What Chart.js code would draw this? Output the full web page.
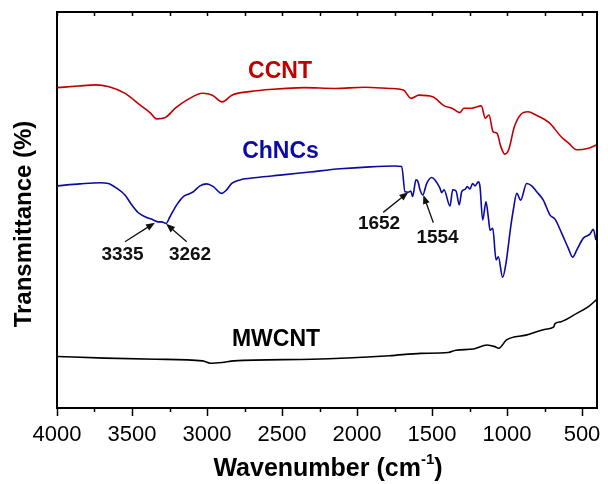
<!DOCTYPE html>
<html>
<head>
<meta charset="utf-8">
<script src="https://cdn.jsdelivr.net/npm/chart.js@4"></script>
<style>
  body { margin: 0; background: #fff; }
  #ftir-chart { display: block; }
</style>
</head>
<body>
<canvas id="ftir-chart" width="608" height="484"></canvas>
<script>
/***************************  Data  ******************************/
// wavenumbers (cm-1) and transmittance (arbitrary, offset per sample)
var ccntWn = [3998, 3860, 3743, 3653, 3549, 3445, 3380, 3335, 3276, 3211, 3133, 3029, 2964, 2899, 2834, 2717, 2561, 2353, 2147, 1951, 1782, 1691, 1639, 1587, 1496, 1418, 1367, 1314, 1288, 1237, 1171, 1145, 1120, 1093, 1067, 1041, 1015, 989, 951, 911, 860, 808, 717, 639, 587, 535, 457, 405];
var ccntT  = [80.9, 81.3, 81.6, 81.1, 79.5, 76.5, 74.6, 73.0, 73.4, 75.7, 77.8, 79.5, 79.0, 77.3, 79.0, 79.9, 80.5, 80.9, 80.7, 81.0, 80.7, 80.3, 78.2, 79.0, 78.6, 76.3, 75.7, 74.6, 75.7, 75.7, 76.3, 73.2, 74.0, 69.8, 69.4, 66.0, 64.1, 65.2, 71.0, 74.0, 74.8, 74.0, 72.0, 68.5, 66.8, 65.2, 65.6, 66.4];

var chncsWn = [3998, 3847, 3713, 3658, 3602, 3547, 3502, 3458, 3413, 3358, 3325, 3302, 3273, 3247, 3202, 3158, 3125, 3091, 3047, 3002, 2958, 2902, 2869, 2835, 2780, 2669, 2513, 2313, 2113, 1913, 1747, 1702, 1680, 1658, 1642, 1629, 1607, 1593, 1580, 1562, 1535, 1502, 1480, 1447, 1435, 1420, 1380, 1362, 1340, 1318, 1302, 1280, 1265, 1247, 1229, 1213, 1191, 1180, 1162, 1140, 1125, 1113, 1095, 1073, 1058, 1029, 1007, 975, 958, 935, 909, 869, 835, 802, 758, 713, 680, 635, 591, 562, 535, 491, 447, 425, 407];
var chncsT  = [56.1, 56.6, 56.9, 56.7, 55.5, 53.8, 51.3, 49.3, 48.3, 47.5, 47.0, 47.0, 46.6, 48.3, 51.3, 53.4, 54.0, 54.6, 56.1, 56.6, 55.9, 54.2, 55.1, 56.7, 57.6, 58.2, 58.8, 59.6, 60.4, 60.9, 61.1, 61.0, 54.6, 54.5, 54.8, 53.4, 57.6, 57.1, 55.1, 53.8, 56.7, 58.2, 57.6, 55.5, 54.4, 55.1, 51.0, 55.1, 54.8, 51.3, 54.6, 55.2, 55.9, 55.3, 56.7, 56.1, 57.1, 55.9, 47.5, 52.1, 48.3, 44.9, 45.4, 37.4, 38.2, 33.0, 36.5, 45.8, 50.0, 54.2, 52.5, 56.7, 56.1, 54.6, 52.5, 48.7, 47.7, 44.1, 40.3, 38.1, 39.9, 42.9, 43.9, 45.1, 42.4];

var mwcntWn = [3998, 3679, 3341, 3029, 2977, 2899, 2821, 2301, 1782, 1574, 1392, 1340, 1223, 1133, 1081, 1055, 1003, 873, 743, 690, 680, 639, 535, 457, 405];
var mwcntT  = [13.0, 12.6, 12.3, 11.9, 11.3, 11.5, 11.9, 12.3, 13.2, 13.8, 14.0, 14.6, 14.9, 15.9, 15.5, 15.1, 17.2, 18.4, 19.9, 20.4, 21.3, 21.8, 23.9, 25.6, 27.3];

var xTickValues = [4000, 3750, 3500, 3250, 3000, 2750, 2500, 2250, 2000, 1750, 1500, 1250, 1000, 750, 500];

var seriesNames = ['CCNT', 'ChNCs', 'MWCNT'];
var seriesColors = ['#c00000', '#0a0aa5', '#000000'];
// where each sample name sits (wavenumber, transmittance)
var seriesLabelAt = [[2513, 84.9], [2510, 64.8], [2540, 17.2]];

// peak call-outs: text, label spot, arrow tail, arrow head
var peakNames = ['3335', '3262', '1652', '1554'];
var peakLabelAt = [[3563, 38.6], [3113, 38.6], [1853, 46.5], [1463, 43.1]];
var peakTail = [[3547, 42.0], [3135, 42.0], [1825, 49.4], [1491, 46.8]];
var peakHead = [[3347, 46.8], [3273, 46.5], [1658, 54.5], [1558, 53.8]];

function toPoints(xs, ys) {
    var pts = [];
    for (var i = 0; i < xs.length; i++) {
        pts.push({x: xs[i], y: ys[i]});
    }
    return pts;
}

/***************************  Extras  ******************************/
var frameAndText = {
    id: 'frameAndText',
    afterDraw: function(chart) {
        var ctx = chart.ctx, area = chart.chartArea;
        var xs = chart.scales.x, ys = chart.scales.y;
        ctx.save();
        // top and right sides of the box
        ctx.strokeStyle = '#000';
        ctx.lineWidth = 2;
        ctx.beginPath();
        ctx.moveTo(area.left - 1, area.top);
        ctx.lineTo(area.right, area.top);
        ctx.lineTo(area.right, area.bottom + 1);
        ctx.stroke();
        // tick marks
        ctx.lineWidth = 1.5;
        xs.ticks.forEach(function(t) {
            var px = Math.round(xs.getPixelForValue(t.value)) + 0.5;
            var major = t.value % 500 === 0;
            ctx.beginPath();
            ctx.moveTo(px, area.bottom);
            ctx.lineTo(px, area.bottom + (major ? 8 : 4));
            ctx.moveTo(px, area.top);
            ctx.lineTo(px, area.top + 4);
            ctx.stroke();
        });
        // axis titles
        ctx.fillStyle = '#000';
        ctx.textBaseline = 'middle';
        ctx.font = 'bold 25px "Liberation Sans", Arial, sans-serif';
        var t1 = 'Wavenumber (cm', sup = '-1', t2 = ')';
        var w1 = ctx.measureText(t1).width, w2 = ctx.measureText(t2).width;
        ctx.font = 'bold 15px "Liberation Sans", Arial, sans-serif';
        var ws = ctx.measureText(sup).width;
        var x0 = 328 - (w1 + ws + w2) / 2, ty = 469;
        ctx.textAlign = 'left';
        ctx.font = 'bold 25px "Liberation Sans", Arial, sans-serif';
        ctx.fillText(t1, x0, ty);
        ctx.font = 'bold 15px "Liberation Sans", Arial, sans-serif';
        ctx.fillText(sup, x0 + w1, ty - 9);
        ctx.font = 'bold 25px "Liberation Sans", Arial, sans-serif';
        ctx.fillText(t2, x0 + w1 + ws, ty);

        ctx.save();
        ctx.translate(24, 224);
        ctx.rotate(-Math.PI / 2);
        ctx.textAlign = 'center';
        ctx.font = 'bold 24px "Liberation Sans", Arial, sans-serif';
        ctx.fillText('Transmittance (%)', 0, 0);
        ctx.restore();

        // sample names
        ctx.textAlign = 'center';
        ctx.font = 'bold 23px "Liberation Sans", Arial, sans-serif';
        for (var i = 0; i < seriesNames.length; i++) {
            ctx.fillStyle = seriesColors[i];
            ctx.fillText(seriesNames[i],
                xs.getPixelForValue(seriesLabelAt[i][0]),
                ys.getPixelForValue(seriesLabelAt[i][1]));
        }

        // peak arrows
        ctx.fillStyle = '#111';
        ctx.strokeStyle = '#111';
        ctx.lineWidth = 1.3;
        ctx.font = 'bold 19px "Liberation Sans", Arial, sans-serif';
        for (var j = 0; j < peakNames.length; j++) {
            var tx = xs.getPixelForValue(peakTail[j][0]), tyy = ys.getPixelForValue(peakTail[j][1]);
            var hx = xs.getPixelForValue(peakHead[j][0]), hy = ys.getPixelForValue(peakHead[j][1]);
            var ang = Math.atan2(hy - tyy, hx - tx);
            ctx.beginPath();
            ctx.moveTo(tx, tyy);
            ctx.lineTo(hx - 6 * Math.cos(ang), hy - 6 * Math.sin(ang));
            ctx.stroke();
            ctx.beginPath();
            ctx.moveTo(hx, hy);
            ctx.lineTo(hx - 9 * Math.cos(ang) + 3.5 * Math.sin(ang), hy - 9 * Math.sin(ang) - 3.5 * Math.cos(ang));
            ctx.lineTo(hx - 9 * Math.cos(ang) - 3.5 * Math.sin(ang), hy - 9 * Math.sin(ang) + 3.5 * Math.cos(ang));
            ctx.closePath();
            ctx.fill();
            ctx.fillText(peakNames[j],
                xs.getPixelForValue(peakLabelAt[j][0]),
                ys.getPixelForValue(peakLabelAt[j][1]));
        }
        ctx.restore();
    }
};

/***************************  Chart  ******************************/
var ctx = document.getElementById('ftir-chart');
var ftirChart = new Chart(ctx, {
    type: 'line',
    data: {
        datasets: [
            { label: seriesNames[0], data: toPoints(ccntWn, ccntT), borderColor: seriesColors[0] },
            { label: seriesNames[1], data: toPoints(chncsWn, chncsT), borderColor: seriesColors[1] },
            { label: seriesNames[2], data: toPoints(mwcntWn, mwcntT), borderColor: seriesColors[2] }
        ]
    },
    options: {
        responsive: false,
        animation: false,
        devicePixelRatio: 1,
        layout: { padding: { top: 12, right: 11, left: 0, bottom: 0 } },
        elements: {
            point: { radius: 0 },
            line: { borderWidth: 1.6, cubicInterpolationMode: 'monotone', fill: false }
        },
        plugins: {
            legend: { display: false },
            tooltip: { enabled: false }
        },
        scales: {
            x: {
                type: 'linear',
                reverse: true,
                min: 400,
                max: 4000,
                afterBuildTicks: function(axis) {
                    axis.ticks = xTickValues.map(function(v) { return {value: v}; });
                },
                afterFit: function(axis) {
                    axis.height = 76;
                    axis.paddingLeft = 0;
                    axis.paddingRight = 0;
                },
                grid: { display: false, drawTicks: false },
                border: { display: true, color: '#000', width: 2 },
                ticks: {
                    autoSkip: false,
                    maxRotation: 0,
                    padding: 14,
                    color: '#000',
                    font: { family: '"Liberation Sans", Arial, sans-serif', size: 22 },
                    callback: function(v) { return v % 500 === 0 ? String(v) : ''; }
                }
            },
            y: {
                min: 0,
                max: 100,
                afterFit: function(axis) { axis.width = 57; },
                grid: { display: false, drawTicks: false },
                border: { display: true, color: '#000', width: 2 },
                ticks: { display: false }
            }
        }
    },
    plugins: [frameAndText]
});
</script>
</body>
</html>
